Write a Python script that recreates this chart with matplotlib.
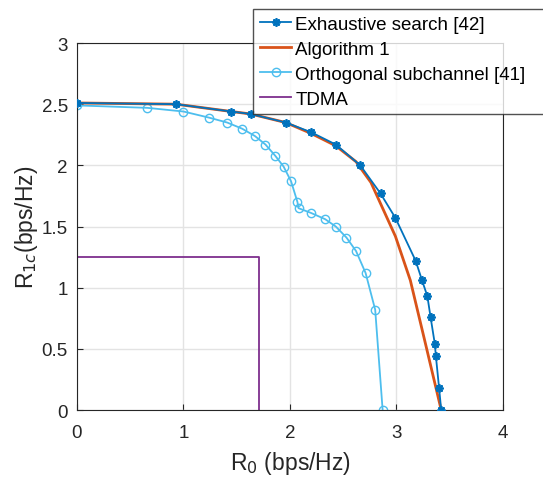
import matplotlib.pyplot as plt

# -----------------------------
# Data
# -----------------------------
es_r0 = [0, 0.93, 1.45, 1.63, 1.96, 2.20, 2.43, 2.66, 2.85, 2.99, 3.18, 3.24, 3.29, 3.32, 3.36, 3.37, 3.40, 3.42]
es_r1 = [2.51, 2.50, 2.44, 2.42, 2.35, 2.27, 2.17, 2.00, 1.77, 1.57, 1.22, 1.06, 0.93, 0.76, 0.54, 0.44, 0.18, 0]

alg_r0 = [0, 0.93, 1.45, 1.63, 1.96, 2.20, 2.43, 2.62, 2.76, 2.99, 3.13, 3.27, 3.42]
alg_r1 = [2.51, 2.50, 2.44, 2.42, 2.35, 2.26, 2.16, 2.03, 1.86, 1.42, 1.06, 0.55, 0]

orth_r0 = [0, 0.66, 1.00, 1.24, 1.41, 1.55, 1.67, 1.77, 1.86, 1.94, 2.01, 2.07, 2.08,
           2.20, 2.33, 2.43, 2.53, 2.62, 2.71, 2.80, 2.87]
orth_r1 = [2.49, 2.47, 2.44, 2.39, 2.35, 2.30, 2.24, 2.17, 2.08, 1.99, 1.87, 1.70, 1.65,
           1.61, 1.56, 1.50, 1.41, 1.30, 1.12, 0.82, 0]

tdma_r0 = [0, 1.71, 1.71]
tdma_r1 = [1.25, 1.25, 0]

labels = ["Exhaustive search [42]", "Algorithm 1", "Orthogonal subchannel [41]", "TDMA"]

# -----------------------------
# Plot
# -----------------------------
plt.rcParams['font.family'] = ['Liberation Sans', 'DejaVu Sans']

fig = plt.figure(figsize=(5.43, 4.81), dpi=100)
ax = fig.add_axes([0.1418, 0.1455, 0.7845, 0.763])

ax.plot(es_r0, es_r1, color='#0072BD', marker=(8, 2, 0), markersize=6, markeredgewidth=1.3,
        linewidth=1.3, label=labels[0], zorder=4)
ax.plot(alg_r0, alg_r1, color='#D95319', linewidth=2, label=labels[1], zorder=3)
ax.plot(orth_r0, orth_r1, color='#4DBEEE', marker='o', markersize=6, markerfacecolor='none',
        linewidth=1.3, label=labels[2], zorder=2)
ax.plot(tdma_r0, tdma_r1, color='#7E2F8E', linewidth=1.3, label=labels[3], zorder=2)

ax.set_xlim(0, 4)
ax.set_ylim(0, 3)
ax.set_xticks([0, 1, 2, 3, 4])
ax.set_yticks([0, 0.5, 1, 1.5, 2, 2.5, 3])
ax.set_yticklabels(['0', '0.5', '1', '1.5', '2', '2.5', '3'])
ax.grid(True, color='#e3e3e3', linewidth=1)
ax.set_axisbelow(True)
ax.tick_params(direction='in', labelsize=13.5, colors='#262626', length=4)
ax.tick_params(axis='x', pad=10)
ax.tick_params(axis='y', pad=6.5)
for s in ax.spines.values():
    s.set_color('#262626')

ax.set_xlabel(r'R$_0$ (bps/Hz)', fontsize=16.5, color='#262626', labelpad=6)
ax.set_ylabel(r'R$_{1c}$(bps/Hz)', fontsize=16.5, color='#262626', labelpad=1)

# legend box runs past the right edge of the figure, like the original
leg = fig.legend(loc='upper left', bbox_to_anchor=(0.466, 0.76, 0.6, 0.219), mode='expand',
                 fontsize=13.5, frameon=True, fancybox=False, edgecolor='#262626',
                 handlelength=1.7, handletextpad=0.2, borderpad=0.35, labelspacing=0.42,
                 borderaxespad=0)
leg.get_frame().set_linewidth(1)

fig.savefig('out.png', dpi=100)
